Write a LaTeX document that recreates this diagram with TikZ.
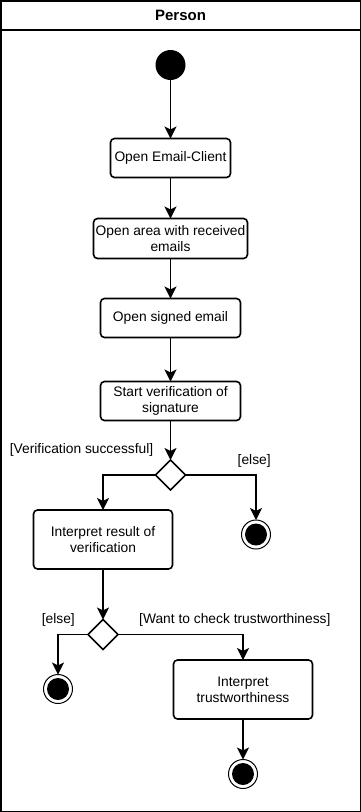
\documentclass[tikz,border=0pt]{standalone}
\usepackage{fontspec}
\setmainfont{Liberation Sans}
\usepackage{tikz}
\usetikzlibrary{shapes.geometric, arrows.meta, positioning, calc}

\newcommand{\actfont}{\fontsize{13.8}{16}\selectfont}

\begin{document}
\begin{tikzpicture}[x=1pt, y=1pt,
  act/.style={rectangle, draw, rounded corners=4pt, line width=1.6pt, outer sep=0pt, align=center, inner sep=2pt, minimum height=39pt, font=\actfont},
  choice/.style={diamond, draw, line width=1.6pt, outer sep=0pt, minimum width=30pt, minimum height=30pt, inner sep=0pt},
  initial/.style={circle, fill=black, outer sep=0pt, minimum size=30pt, inner sep=0pt},
  final/.style={circle, draw, line width=1pt, outer sep=0pt, minimum size=29pt, inner sep=0pt, path picture={\fill (path picture bounding box.center) circle (11pt);}},
  guard/.style={inner sep=0pt, font=\actfont},
  flow/.style={line width=1.6pt, -{Stealth[length=12pt, width=12pt, inset=3pt]}}
]
  \useasboundingbox (0,0) rectangle (361,-812);
  \draw[line width=1.5pt] (0.75,-0.75) rectangle (360.25,-811.25);
  \draw[line width=1.5pt] (0,-30) -- (361,-30);
  \node[font=\bfseries\fontsize{15}{18}\selectfont] (lane) at (180.5,-15.5) {Person};

  \node[initial] (start) at (170.5,-65) {};
  \node[act, minimum width=120pt, below=58.5pt of start] (client) {Open Email-Client};
  \node[act, minimum width=154pt, minimum height=40pt, below=41pt of client] (inbox) {Open area with received\\emails};
  \node[act, minimum width=140pt, below=40pt of inbox] (signed) {Open signed email};
  \node[act, minimum width=140pt, below=44pt of signed] (verify) {Start verification of\\signature};
  \node[choice, below=39.5pt of verify] (okcheck) {};
  \node[act, minimum width=139pt, minimum height=59pt, below=20pt of okcheck, xshift=-67.5pt] (result) {Interpret result of\\verification};
  \node[final, below=30pt of okcheck, xshift=85.5pt] (endfail) {};
  \node[choice, below=50.5pt of result] (trustcheck) {};
  \node[final, below=25pt of trustcheck, xshift=-45pt] (endskip) {};
  \node[act, minimum width=139pt, minimum height=59pt, below=10.5pt of trustcheck, xshift=140pt] (trust) {Interpret\\trustworthiness};
  \node[final, below=40.5pt of trust] (enddone) {};

  \node[guard, anchor=east] (okguard) at ([shift={(-17pt,10pt)}]okcheck.north) {[Verification successful]};
  \node[guard, anchor=west] (failguard) at ([shift={(52pt,14pt)}]okcheck.east) {[else]};
  \node[guard, anchor=east] (skipguard) at ([shift={(-13pt,15pt)}]trustcheck.west) {[else]};
  \node[guard, anchor=west] (trustguard) at ([shift={(21pt,15pt)}]trustcheck.east) {[Want to check trustworthiness]};

  \draw[flow] (start) -- (client);
  \draw[flow] (client) -- (inbox);
  \draw[flow] (inbox) -- (signed);
  \draw[flow] (signed) -- (verify);
  \draw[flow] (verify) -- (okcheck);
  \draw[flow] (okcheck.west) -| (result.north);
  \draw[flow] (okcheck.east) -| (endfail.north);
  \draw[flow] (result) -- (trustcheck);
  \draw[flow] (trustcheck.west) -| (endskip.north);
  \draw[flow] (trustcheck.east) -| (trust.north);
  \draw[flow] (trust) -- (enddone);
\end{tikzpicture}
\end{document}
